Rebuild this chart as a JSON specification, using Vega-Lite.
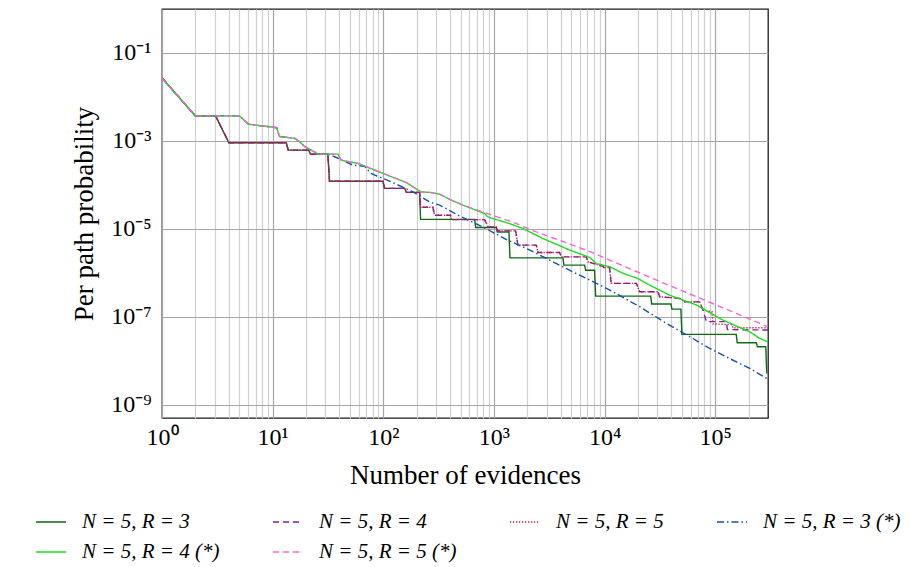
{
  "$schema": "https://vega.github.io/schema/vega-lite/v6.json",
  "width": 606,
  "height": 409,
  "autosize": "none",
  "padding": {"left": 162, "top": 9, "right": 142, "bottom": 149},
  "background": "white",
  "config": {"view": {"stroke": "#1a1a1a", "strokeWidth": 1.3}, "font": "Liberation Serif"},
  "datasets": {
    "d": [
      {"series": "N = 5, R = 3", "evidences": 1, "probability": 0.027},
      {"series": "N = 5, R = 3", "evidences": 2, "probability": 0.003715},
      {"series": "N = 5, R = 3", "evidences": 3.05, "probability": 0.003715},
      {"series": "N = 5, R = 3", "evidences": 4.02, "probability": 0.000912},
      {"series": "N = 5, R = 3", "evidences": 13.27, "probability": 0.000912},
      {"series": "N = 5, R = 3", "evidences": 13.84, "probability": 0.0006166},
      {"series": "N = 5, R = 3", "evidences": 21.13, "probability": 0.0006166},
      {"series": "N = 5, R = 3", "evidences": 22.03, "probability": 0.000501},
      {"series": "N = 5, R = 3", "evidences": 31.55, "probability": 0.000501},
      {"series": "N = 5, R = 3", "evidences": 32.66, "probability": 0.0001213},
      {"series": "N = 5, R = 3", "evidences": 99.1, "probability": 0.0001213},
      {"series": "N = 5, R = 3", "evidences": 102.8, "probability": 0.00008318},
      {"series": "N = 5, R = 3", "evidences": 156, "probability": 0.00008318},
      {"series": "N = 5, R = 3", "evidences": 161.4, "probability": 0.00006761},
      {"series": "N = 5, R = 3", "evidences": 212.8, "probability": 0.00006761},
      {"series": "N = 5, R = 3", "evidences": 217.3, "probability": 1.641e-5},
      {"series": "N = 5, R = 3", "evidences": 669.9, "probability": 1.641e-5},
      {"series": "N = 5, R = 3", "evidences": 683.9, "probability": 1.072e-5},
      {"series": "N = 5, R = 3", "evidences": 1052, "probability": 1.072e-5},
      {"series": "N = 5, R = 3", "evidences": 1072, "probability": 8.511e-6},
      {"series": "N = 5, R = 3", "evidences": 1368, "probability": 8.511e-6},
      {"series": "N = 5, R = 3", "evidences": 1396, "probability": 2.188e-6},
      {"series": "N = 5, R = 3", "evidences": 4207, "probability": 2.188e-6},
      {"series": "N = 5, R = 3", "evidences": 4295, "probability": 1.496e-6},
      {"series": "N = 5, R = 3", "evidences": 6607, "probability": 1.496e-6},
      {"series": "N = 5, R = 3", "evidences": 6745, "probability": 1.148e-6},
      {"series": "N = 5, R = 3", "evidences": 8128, "probability": 1.148e-6},
      {"series": "N = 5, R = 3", "evidences": 8299, "probability": 2.951e-7},
      {"series": "N = 5, R = 3", "evidences": 26120, "probability": 2.951e-7},
      {"series": "N = 5, R = 3", "evidences": 26670, "probability": 1.95e-7},
      {"series": "N = 5, R = 3", "evidences": 39810, "probability": 1.95e-7},
      {"series": "N = 5, R = 3", "evidences": 40640, "probability": 1.496e-7},
      {"series": "N = 5, R = 3", "evidences": 48980, "probability": 1.496e-7},
      {"series": "N = 5, R = 3", "evidences": 50000, "probability": 3.981e-8},
      {"series": "N = 5, R = 3", "evidences": 154900, "probability": 3.981e-8},
      {"series": "N = 5, R = 3", "evidences": 158100, "probability": 2.57e-8},
      {"series": "N = 5, R = 3", "evidences": 235500, "probability": 2.57e-8},
      {"series": "N = 5, R = 3", "evidences": 240400, "probability": 2.089e-8},
      {"series": "N = 5, R = 3", "evidences": 286400, "probability": 2.089e-8},
      {"series": "N = 5, R = 3", "evidences": 292400, "probability": 5.129e-9},

      {"series": "N = 5, R = 4", "evidences": 1, "probability": 0.027},
      {"series": "N = 5, R = 4", "evidences": 2, "probability": 0.003715},
      {"series": "N = 5, R = 4", "evidences": 3.05, "probability": 0.003715},
      {"series": "N = 5, R = 4", "evidences": 4.02, "probability": 0.000912},
      {"series": "N = 5, R = 4", "evidences": 13.27, "probability": 0.000912},
      {"series": "N = 5, R = 4", "evidences": 13.84, "probability": 0.0006166},
      {"series": "N = 5, R = 4", "evidences": 21.13, "probability": 0.0006166},
      {"series": "N = 5, R = 4", "evidences": 22.03, "probability": 0.000501},
      {"series": "N = 5, R = 4", "evidences": 31.55, "probability": 0.000501},
      {"series": "N = 5, R = 4", "evidences": 32.66, "probability": 0.0001213},
      {"series": "N = 5, R = 4", "evidences": 99.1, "probability": 0.0001213},
      {"series": "N = 5, R = 4", "evidences": 102.8, "probability": 0.00008318},
      {"series": "N = 5, R = 4", "evidences": 156, "probability": 0.00008318},
      {"series": "N = 5, R = 4", "evidences": 161.4, "probability": 0.00006761},
      {"series": "N = 5, R = 4", "evidences": 212.8, "probability": 0.00006761},
      {"series": "N = 5, R = 4", "evidences": 217.3, "probability": 3.09e-5},
      {"series": "N = 5, R = 4", "evidences": 280.5, "probability": 3.09e-5},
      {"series": "N = 5, R = 4", "evidences": 291.1, "probability": 2.042e-5},
      {"series": "N = 5, R = 4", "evidences": 404.6, "probability": 2.042e-5},
      {"series": "N = 5, R = 4", "evidences": 412.1, "probability": 1.622e-5},
      {"series": "N = 5, R = 4", "evidences": 824.1, "probability": 1.622e-5},
      {"series": "N = 5, R = 4", "evidences": 883.1, "probability": 1.109e-5},
      {"series": "N = 5, R = 4", "evidences": 1052, "probability": 1.109e-5},
      {"series": "N = 5, R = 4", "evidences": 1072, "probability": 9.016e-6},
      {"series": "N = 5, R = 4", "evidences": 1570, "probability": 9.016e-6},
      {"series": "N = 5, R = 4", "evidences": 1648, "probability": 4.266e-6},
      {"series": "N = 5, R = 4", "evidences": 2415, "probability": 4.266e-6},
      {"series": "N = 5, R = 4", "evidences": 2500, "probability": 2.911e-6},
      {"series": "N = 5, R = 4", "evidences": 3926, "probability": 2.911e-6},
      {"series": "N = 5, R = 4", "evidences": 4064, "probability": 2.312e-6},
      {"series": "N = 5, R = 4", "evidences": 6839, "probability": 2.312e-6},
      {"series": "N = 5, R = 4", "evidences": 7079, "probability": 1.778e-6},
      {"series": "N = 5, R = 4", "evidences": 9661, "probability": 1.413e-6},
      {"series": "N = 5, R = 4", "evidences": 9772, "probability": 1.318e-6},
      {"series": "N = 5, R = 4", "evidences": 11090, "probability": 1.318e-6},
      {"series": "N = 5, R = 4", "evidences": 11480, "probability": 5.754e-7},
      {"series": "N = 5, R = 4", "evidences": 19410, "probability": 5.754e-7},
      {"series": "N = 5, R = 4", "evidences": 20750, "probability": 3.715e-7},
      {"series": "N = 5, R = 4", "evidences": 30410, "probability": 3.715e-7},
      {"series": "N = 5, R = 4", "evidences": 31480, "probability": 2.851e-7},
      {"series": "N = 5, R = 4", "evidences": 47750, "probability": 2.63e-7},
      {"series": "N = 5, R = 4", "evidences": 52970, "probability": 2.188e-7},
      {"series": "N = 5, R = 4", "evidences": 72440, "probability": 2.188e-7},
      {"series": "N = 5, R = 4", "evidences": 77620, "probability": 1.413e-7},
      {"series": "N = 5, R = 4", "evidences": 83180, "probability": 7.762e-8},
      {"series": "N = 5, R = 4", "evidences": 125900, "probability": 7.762e-8},
      {"series": "N = 5, R = 4", "evidences": 128800, "probability": 5.129e-8},
      {"series": "N = 5, R = 4", "evidences": 299900, "probability": 5.012e-8},

      {"series": "N = 5, R = 5", "evidences": 1, "probability": 0.027},
      {"series": "N = 5, R = 5", "evidences": 2, "probability": 0.003715},
      {"series": "N = 5, R = 5", "evidences": 3.05, "probability": 0.003715},
      {"series": "N = 5, R = 5", "evidences": 4.02, "probability": 0.000912},
      {"series": "N = 5, R = 5", "evidences": 13.27, "probability": 0.000912},
      {"series": "N = 5, R = 5", "evidences": 13.84, "probability": 0.0006166},
      {"series": "N = 5, R = 5", "evidences": 21.13, "probability": 0.0006166},
      {"series": "N = 5, R = 5", "evidences": 22.03, "probability": 0.000501},
      {"series": "N = 5, R = 5", "evidences": 31.55, "probability": 0.000501},
      {"series": "N = 5, R = 5", "evidences": 32.66, "probability": 0.0001213},
      {"series": "N = 5, R = 5", "evidences": 99.1, "probability": 0.0001213},
      {"series": "N = 5, R = 5", "evidences": 102.8, "probability": 0.00008318},
      {"series": "N = 5, R = 5", "evidences": 156, "probability": 0.00008318},
      {"series": "N = 5, R = 5", "evidences": 161.4, "probability": 0.00006761},
      {"series": "N = 5, R = 5", "evidences": 212.8, "probability": 0.00006761},
      {"series": "N = 5, R = 5", "evidences": 217.3, "probability": 3.09e-5},
      {"series": "N = 5, R = 5", "evidences": 280.5, "probability": 3.09e-5},
      {"series": "N = 5, R = 5", "evidences": 291.1, "probability": 2.042e-5},
      {"series": "N = 5, R = 5", "evidences": 404.6, "probability": 2.042e-5},
      {"series": "N = 5, R = 5", "evidences": 412.1, "probability": 1.622e-5},
      {"series": "N = 5, R = 5", "evidences": 824.1, "probability": 1.622e-5},
      {"series": "N = 5, R = 5", "evidences": 883.1, "probability": 1.109e-5},
      {"series": "N = 5, R = 5", "evidences": 1052, "probability": 1.109e-5},
      {"series": "N = 5, R = 5", "evidences": 1072, "probability": 9.016e-6},
      {"series": "N = 5, R = 5", "evidences": 1570, "probability": 9.016e-6},
      {"series": "N = 5, R = 5", "evidences": 1648, "probability": 4.266e-6},
      {"series": "N = 5, R = 5", "evidences": 2415, "probability": 4.266e-6},
      {"series": "N = 5, R = 5", "evidences": 2500, "probability": 2.911e-6},
      {"series": "N = 5, R = 5", "evidences": 3926, "probability": 2.911e-6},
      {"series": "N = 5, R = 5", "evidences": 4064, "probability": 2.312e-6},
      {"series": "N = 5, R = 5", "evidences": 6839, "probability": 2.312e-6},
      {"series": "N = 5, R = 5", "evidences": 7079, "probability": 1.778e-6},
      {"series": "N = 5, R = 5", "evidences": 9661, "probability": 1.413e-6},
      {"series": "N = 5, R = 5", "evidences": 9772, "probability": 1.318e-6},
      {"series": "N = 5, R = 5", "evidences": 11090, "probability": 1.318e-6},
      {"series": "N = 5, R = 5", "evidences": 11480, "probability": 5.754e-7},
      {"series": "N = 5, R = 5", "evidences": 19410, "probability": 5.754e-7},
      {"series": "N = 5, R = 5", "evidences": 20750, "probability": 3.715e-7},
      {"series": "N = 5, R = 5", "evidences": 30410, "probability": 3.715e-7},
      {"series": "N = 5, R = 5", "evidences": 31480, "probability": 2.851e-7},
      {"series": "N = 5, R = 5", "evidences": 47750, "probability": 2.63e-7},
      {"series": "N = 5, R = 5", "evidences": 52970, "probability": 2.188e-7},
      {"series": "N = 5, R = 5", "evidences": 72440, "probability": 2.188e-7},
      {"series": "N = 5, R = 5", "evidences": 77620, "probability": 1.413e-7},
      {"series": "N = 5, R = 5", "evidences": 93330, "probability": 1.318e-7},
      {"series": "N = 5, R = 5", "evidences": 95500, "probability": 6.918e-8},
      {"series": "N = 5, R = 5", "evidences": 141300, "probability": 6.607e-8},
      {"series": "N = 5, R = 5", "evidences": 144500, "probability": 5.623e-8},
      {"series": "N = 5, R = 5", "evidences": 299900, "probability": 5.623e-8},

      {"series": "N = 5, R = 3 (*)", "evidences": 1, "probability": 0.027},
      {"series": "N = 5, R = 3 (*)", "evidences": 2, "probability": 0.003715},
      {"series": "N = 5, R = 3 (*)", "evidences": 5.012, "probability": 0.003715},
      {"series": "N = 5, R = 3 (*)", "evidences": 6.053, "probability": 0.002399},
      {"series": "N = 5, R = 3 (*)", "evidences": 10.91, "probability": 0.001995},
      {"series": "N = 5, R = 3 (*)", "evidences": 11.53, "probability": 0.001259},
      {"series": "N = 5, R = 3 (*)", "evidences": 15.78, "probability": 0.001148},
      {"series": "N = 5, R = 3 (*)", "evidences": 17.5, "probability": 0.000955},
      {"series": "N = 5, R = 3 (*)", "evidences": 19.72, "probability": 0.0007244},
      {"series": "N = 5, R = 3 (*)", "evidences": 26, "probability": 0.0005012},
      {"series": "N = 5, R = 3 (*)", "evidences": 31.62, "probability": 0.0005012},
      {"series": "N = 5, R = 3 (*)", "evidences": 36.31, "probability": 0.0004365},
      {"series": "N = 5, R = 3 (*)", "evidences": 53.09, "probability": 0.0002818},
      {"series": "N = 5, R = 3 (*)", "evidences": 67.61, "probability": 0.0002661},
      {"series": "N = 5, R = 3 (*)", "evidences": 77.62, "probability": 0.000182},
      {"series": "N = 5, R = 3 (*)", "evidences": 117.5, "probability": 0.0001175},
      {"series": "N = 5, R = 3 (*)", "evidences": 186.2, "probability": 6.918e-5},
      {"series": "N = 5, R = 3 (*)", "evidences": 263, "probability": 4.074e-5},
      {"series": "N = 5, R = 3 (*)", "evidences": 323.6, "probability": 3.467e-5},
      {"series": "N = 5, R = 3 (*)", "evidences": 489.8, "probability": 1.95e-5},
      {"series": "N = 5, R = 3 (*)", "evidences": 794.3, "probability": 1.109e-5},
      {"series": "N = 5, R = 3 (*)", "evidences": 1288, "probability": 5.754e-6},
      {"series": "N = 5, R = 3 (*)", "evidences": 1963, "probability": 3.589e-6},
      {"series": "N = 5, R = 3 (*)", "evidences": 3192, "probability": 1.95e-6},
      {"series": "N = 5, R = 3 (*)", "evidences": 5176, "probability": 1.047e-6},
      {"series": "N = 5, R = 3 (*)", "evidences": 7852, "probability": 6.31e-7},
      {"series": "N = 5, R = 3 (*)", "evidences": 11910, "probability": 3.715e-7},
      {"series": "N = 5, R = 3 (*)", "evidences": 20750, "probability": 1.698e-7},
      {"series": "N = 5, R = 3 (*)", "evidences": 36220, "probability": 7.079e-8},
      {"series": "N = 5, R = 3 (*)", "evidences": 58750, "probability": 3.548e-8},
      {"series": "N = 5, R = 3 (*)", "evidences": 89130, "probability": 1.905e-8},
      {"series": "N = 5, R = 3 (*)", "evidences": 135200, "probability": 1.122e-8},
      {"series": "N = 5, R = 3 (*)", "evidences": 205100, "probability": 6.761e-9},
      {"series": "N = 5, R = 3 (*)", "evidences": 299900, "probability": 3.802e-9},

      {"series": "N = 5, R = 4 (*)", "evidences": 1, "probability": 0.027},
      {"series": "N = 5, R = 4 (*)", "evidences": 2, "probability": 0.003715},
      {"series": "N = 5, R = 4 (*)", "evidences": 5.012, "probability": 0.003715},
      {"series": "N = 5, R = 4 (*)", "evidences": 6.053, "probability": 0.002399},
      {"series": "N = 5, R = 4 (*)", "evidences": 10.91, "probability": 0.001995},
      {"series": "N = 5, R = 4 (*)", "evidences": 11.53, "probability": 0.001259},
      {"series": "N = 5, R = 4 (*)", "evidences": 15.78, "probability": 0.001148},
      {"series": "N = 5, R = 4 (*)", "evidences": 17.5, "probability": 0.000955},
      {"series": "N = 5, R = 4 (*)", "evidences": 19.72, "probability": 0.0007244},
      {"series": "N = 5, R = 4 (*)", "evidences": 26, "probability": 0.0005012},
      {"series": "N = 5, R = 4 (*)", "evidences": 38.9, "probability": 0.0005012},
      {"series": "N = 5, R = 4 (*)", "evidences": 41.69, "probability": 0.0003631},
      {"series": "N = 5, R = 4 (*)", "evidences": 58.88, "probability": 0.000309},
      {"series": "N = 5, R = 4 (*)", "evidences": 100, "probability": 0.000182},
      {"series": "N = 5, R = 4 (*)", "evidences": 162.2, "probability": 0.0001122},
      {"series": "N = 5, R = 4 (*)", "evidences": 218.8, "probability": 6.918e-5},
      {"series": "N = 5, R = 4 (*)", "evidences": 262.4, "probability": 6.761e-5},
      {"series": "N = 5, R = 4 (*)", "evidences": 323.6, "probability": 6.166e-5},
      {"series": "N = 5, R = 4 (*)", "evidences": 398.1, "probability": 4.677e-5},
      {"series": "N = 5, R = 4 (*)", "evidences": 524.8, "probability": 3.467e-5},
      {"series": "N = 5, R = 4 (*)", "evidences": 824.1, "probability": 2.239e-5},
      {"series": "N = 5, R = 4 (*)", "evidences": 883.1, "probability": 1.862e-5},
      {"series": "N = 5, R = 4 (*)", "evidences": 1387, "probability": 1.318e-5},
      {"series": "N = 5, R = 4 (*)", "evidences": 1828, "probability": 1.023e-5},
      {"series": "N = 5, R = 4 (*)", "evidences": 2773, "probability": 6.026e-6},
      {"series": "N = 5, R = 4 (*)", "evidences": 4831, "probability": 3.311e-6},
      {"series": "N = 5, R = 4 (*)", "evidences": 7328, "probability": 2.239e-6},
      {"series": "N = 5, R = 4 (*)", "evidences": 8433, "probability": 1.622e-6},
      {"series": "N = 5, R = 4 (*)", "evidences": 11120, "probability": 1.38e-6},
      {"series": "N = 5, R = 4 (*)", "evidences": 14660, "probability": 9.772e-7},
      {"series": "N = 5, R = 4 (*)", "evidences": 20040, "probability": 7.413e-7},
      {"series": "N = 5, R = 4 (*)", "evidences": 25590, "probability": 5.248e-7},
      {"series": "N = 5, R = 4 (*)", "evidences": 38820, "probability": 3.09e-7},
      {"series": "N = 5, R = 4 (*)", "evidences": 67610, "probability": 1.862e-7},
      {"series": "N = 5, R = 4 (*)", "evidences": 117500, "probability": 8.414e-8},
      {"series": "N = 5, R = 4 (*)", "evidences": 205100, "probability": 4.571e-8},
      {"series": "N = 5, R = 4 (*)", "evidences": 252300, "probability": 3.236e-8},
      {"series": "N = 5, R = 4 (*)", "evidences": 299900, "probability": 2.692e-8},

      {"series": "N = 5, R = 5 (*)", "evidences": 1, "probability": 0.027},
      {"series": "N = 5, R = 5 (*)", "evidences": 2, "probability": 0.003715},
      {"series": "N = 5, R = 5 (*)", "evidences": 5.012, "probability": 0.003715},
      {"series": "N = 5, R = 5 (*)", "evidences": 6.053, "probability": 0.002399},
      {"series": "N = 5, R = 5 (*)", "evidences": 10.91, "probability": 0.001995},
      {"series": "N = 5, R = 5 (*)", "evidences": 11.53, "probability": 0.001259},
      {"series": "N = 5, R = 5 (*)", "evidences": 15.78, "probability": 0.001148},
      {"series": "N = 5, R = 5 (*)", "evidences": 17.5, "probability": 0.000955},
      {"series": "N = 5, R = 5 (*)", "evidences": 19.72, "probability": 0.0007244},
      {"series": "N = 5, R = 5 (*)", "evidences": 26, "probability": 0.0005012},
      {"series": "N = 5, R = 5 (*)", "evidences": 38.9, "probability": 0.0005012},
      {"series": "N = 5, R = 5 (*)", "evidences": 41.69, "probability": 0.0003631},
      {"series": "N = 5, R = 5 (*)", "evidences": 58.88, "probability": 0.000309},
      {"series": "N = 5, R = 5 (*)", "evidences": 100, "probability": 0.000182},
      {"series": "N = 5, R = 5 (*)", "evidences": 162.2, "probability": 0.0001122},
      {"series": "N = 5, R = 5 (*)", "evidences": 218.8, "probability": 6.918e-5},
      {"series": "N = 5, R = 5 (*)", "evidences": 262.4, "probability": 6.761e-5},
      {"series": "N = 5, R = 5 (*)", "evidences": 323.6, "probability": 6.166e-5},
      {"series": "N = 5, R = 5 (*)", "evidences": 398.1, "probability": 4.677e-5},
      {"series": "N = 5, R = 5 (*)", "evidences": 524.8, "probability": 3.467e-5},
      {"series": "N = 5, R = 5 (*)", "evidences": 824.1, "probability": 2.344e-5},
      {"series": "N = 5, R = 5 (*)", "evidences": 1486, "probability": 1.413e-5},
      {"series": "N = 5, R = 5 (*)", "evidences": 2415, "probability": 8.511e-6},
      {"series": "N = 5, R = 5 (*)", "evidences": 4355, "probability": 5.012e-6},
      {"series": "N = 5, R = 5 (*)", "evidences": 7852, "probability": 2.851e-6},
      {"series": "N = 5, R = 5 (*)", "evidences": 14190, "probability": 1.496e-6},
      {"series": "N = 5, R = 5 (*)", "evidences": 33730, "probability": 5.929e-7},
      {"series": "N = 5, R = 5 (*)", "evidences": 83180, "probability": 2.312e-7},
      {"series": "N = 5, R = 5 (*)", "evidences": 205100, "probability": 8.913e-8},
      {"series": "N = 5, R = 5 (*)", "evidences": 299900, "probability": 5.888e-8}
    ]
  },
  "data": {"name": "d"},
  "mark": {"type": "line", "strokeWidth": 1.4, "clip": true},
  "encoding": {
    "x": {
      "field": "evidences",
      "type": "quantitative",
      "scale": {"type": "log", "domain": [1, 300000], "nice": false},
      "axis": {
        "values": [1,2,3,4,5,6,7,8,9,10,20,30,40,50,60,70,80,90,100,200,300,400,500,600,700,800,900,1000,2000,3000,4000,5000,6000,7000,8000,9000,10000,20000,30000,40000,50000,60000,70000,80000,90000,100000,200000],
        "labelExpr": "datum.value == 1 ? '10⁰' : datum.value == 10 ? '10¹' : datum.value == 100 ? '10²' : datum.value == 1000 ? '10³' : datum.value == 10000 ? '10⁴' : datum.value == 100000 ? '10⁵' : ''",
        "labelOverlap": false,
        "labelFlush": false,
        "grid": true,
        "gridColor": {"condition": {"test": "indexof([1,10,100,1000,10000,100000], datum.value) >= 0", "value": "#a6a6a6"}, "value": "#d0d0d0"},
        "gridWidth": 1.2,
        "ticks": false,
        "domain": false,
        "labelFont": "Liberation Serif",
        "labelFontSize": 24,
        "labelColor": "#000",
        "labelPadding": 7,
        "title": "Number of evidences",
        "titleFont": "Liberation Serif",
        "titleFontSize": 27,
        "titleFontWeight": "normal",
        "titleColor": "#000",
        "titlePadding": 13
      }
    },
    "y": {
      "field": "probability",
      "type": "quantitative",
      "scale": {"type": "log", "domain": [5e-10, 1], "nice": false},
      "axis": {
        "values": [0.1, 0.001, 0.00001, 1e-7, 1e-9],
        "labelExpr": "datum.value > 0.01 ? '10⁻¹' : datum.value > 0.0001 ? '10⁻³' : datum.value > 0.000001 ? '10⁻⁵' : datum.value > 0.00000001 ? '10⁻⁷' : '10⁻⁹'",
        "labelOverlap": false,
        "labelFlush": false,
        "grid": true,
        "gridColor": "#a6a6a6",
        "gridWidth": 1.2,
        "ticks": false,
        "domain": false,
        "labelFont": "Liberation Serif",
        "labelFontSize": 24,
        "labelColor": "#000",
        "labelPadding": 11,
        "title": "Per path probability",
        "titleFont": "Liberation Serif",
        "titleFontSize": 27,
        "titleFontWeight": "normal",
        "titleColor": "#000",
        "titlePadding": 12
      }
    },
    "color": {
      "field": "series",
      "type": "nominal",
      "scale": {
        "domain": ["N = 5, R = 3", "N = 5, R = 4", "N = 5, R = 5", "N = 5, R = 3 (*)", "N = 5, R = 4 (*)", "N = 5, R = 5 (*)"],
        "range": ["#0e6b12", "#7c1fa3", "#d0103a", "#1650a8", "#1edc1e", "#ff5fd8"]
      },
      "legend": {
        "title": null, "orient": "none", "legendX": -127, "legendY": 497,
        "direction": "horizontal", "columns": 4, "columnPadding": 50, "rowPadding": 4,
        "gridAlign": "each", "padding": 0,
        "symbolType": "stroke", "symbolSize": 900, "symbolStrokeWidth": 1.5,
        "labelFont": "Liberation Serif", "labelFontStyle": "italic", "labelFontSize": 21,
        "labelColor": "#000", "labelOffset": 15, "labelLimit": 300
      }
    },
    "strokeDash": {
      "field": "series",
      "type": "nominal",
      "scale": {
        "domain": ["N = 5, R = 3", "N = 5, R = 4", "N = 5, R = 5", "N = 5, R = 3 (*)", "N = 5, R = 4 (*)", "N = 5, R = 5 (*)"],
        "range": [[1, 0], [6, 4], [1.2, 1.8], [7, 3, 1.5, 3], [1, 0], [6, 4]]
      },
      "legend": {
        "title": null, "orient": "none", "legendX": -127, "legendY": 497,
        "direction": "horizontal", "columns": 4, "columnPadding": 50, "rowPadding": 4,
        "gridAlign": "each", "padding": 0,
        "symbolType": "stroke", "symbolSize": 900, "symbolStrokeWidth": 1.5,
        "labelFont": "Liberation Serif", "labelFontStyle": "italic", "labelFontSize": 21,
        "labelColor": "#000", "labelOffset": 15, "labelLimit": 300
      }
    }
  }
}
